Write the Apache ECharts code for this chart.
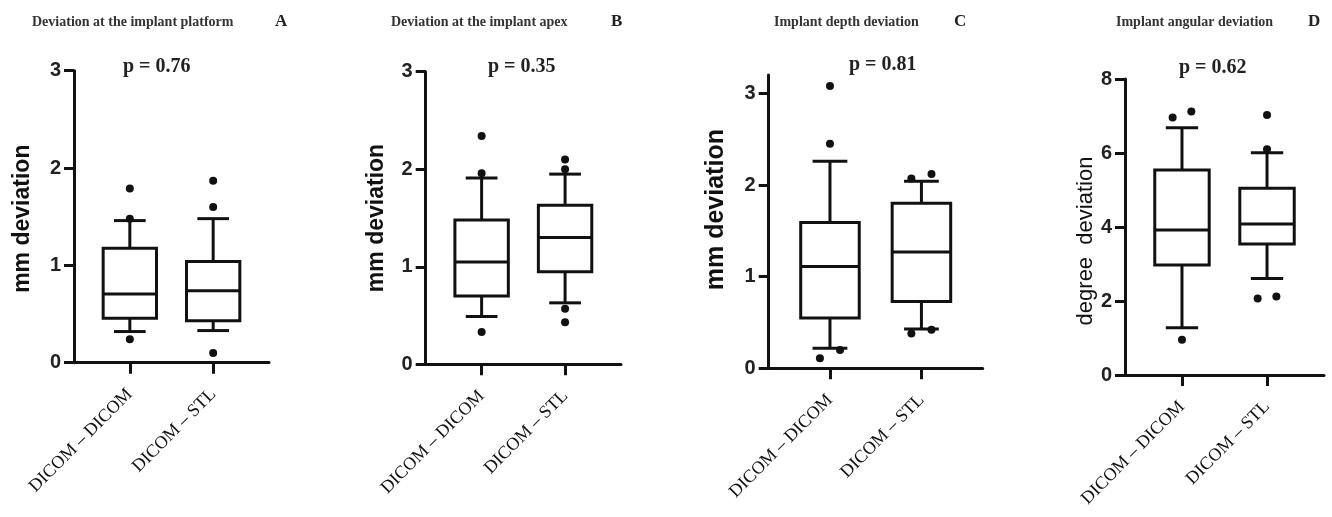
<!DOCTYPE html>
<html>
<head>
<meta charset="utf-8">
<script src="https://cdn.jsdelivr.net/npm/echarts@6/dist/echarts.min.js"></script>
<style>
html,body{margin:0;padding:0;background:#fff;}
#c{width:1332px;height:517px;}
</style>
</head>
<body>
<div id="c"></div>
<script>
// ---------- data ----------
const categories = ['DICOM – DICOM', 'DICOM – STL'];

const panelTitles = ['Deviation at the implant platform', 'Deviation at the implant apex', 'Implant depth deviation', 'Implant angular deviation'];
const panelLetters = ['A', 'B', 'C', 'D'];
const pValues = ['p = 0.76', 'p = 0.35', 'p = 0.81', 'p = 0.62'];
const yNames = ['mm deviation', 'mm deviation', 'mm deviation', 'degree  deviation'];

// [whisker low, Q1, median, Q3, whisker high]
const boxA = [[0.32, 0.456, 0.706, 1.176, 1.46], [0.33, 0.43, 0.74, 1.04, 1.48]];
const boxB = [[0.49, 0.70, 1.05, 1.48, 1.91], [0.63, 0.95, 1.30, 1.63, 1.95]];
const boxC = [[0.22, 0.55, 1.11, 1.59, 2.26], [0.43, 0.73, 1.27, 1.80, 2.04]];
const boxD = [[1.28, 2.97, 3.92, 5.54, 6.68], [2.61, 3.54, 4.08, 5.05, 6.01]];

const outA = [[1.79, 1.48, 0.24], [1.87, 1.60, 0.10]];
const outB = [[2.34, 1.96, 0.33], [2.10, 2.00, 0.57, 0.43]];
const outC = [[3.08, 2.45, 0.20, 0.11], [2.07, 2.12, 0.42, 0.38]];
const outD = [[6.96, 7.12, 0.95], [7.03, 6.10, 2.07, 2.12]];

const yMax = [3, 3, 3.2, 8];
const yInterval = [1, 1, 1, 2];
const yTicksA = [0, 1, 2, 3];
const yTicksD = [0, 2, 4, 6, 8];

// ---------- layout / style ----------
const boxes = [boxA, boxB, boxC, boxD];
const outs = [outA, outB, outC, outD];
const yTicks = [yTicksA, yTicksA, yTicksA, yTicksD];
const grids = [
  {left: 74, top: 70.7, width: 195, height: 292},
  {left: 425.7, top: 71.7, width: 195.3, height: 292.6},
  {left: 768.7, top: 75, width: 214, height: 293.3},
  {left: 1125, top: 79, width: 199, height: 296}
];
const titlePos = [[32, 15], [391, 15], [774, 15], [1116, 15]];
const letterPos = [[275, 13], [611, 13], [954, 13], [1308, 13]];
const pPos = [[123, 57], [488, 57], [849, 55], [1179, 58]];
const nameGap = [40, 38, 40, 27];
const nameSize = [23, 23, 25, 22];
const nameWeight = ['bold', 'bold', 'bold', 'normal'];
const namePad = [[0, 4, 0, 0], [0, 0, 0, 0], [0, 0, 0, 24], [0, 28, 0, 0]];
const INK = '#111';
const LW = 3;
const BOX_W = 0.64, CAP_W = 0.38, JIT = 0.11;

function renderBox(params, api) {
  const x = api.value(0);
  const lo = api.coord([x, api.value(1)]);
  const q1 = api.coord([x, api.value(2)]);
  const md = api.coord([x, api.value(3)]);
  const q3 = api.coord([x, api.value(4)]);
  const hi = api.coord([x, api.value(5)]);
  const bw = api.size([BOX_W, 0])[0];
  const cw = api.size([CAP_W, 0])[0];
  const st = {stroke: INK, lineWidth: LW, fill: null};
  const cx = lo[0];
  return {
    type: 'group',
    children: [
      {type: 'line', shape: {x1: cx, y1: hi[1], x2: cx, y2: q3[1]}, style: st},
      {type: 'line', shape: {x1: cx, y1: q1[1], x2: cx, y2: lo[1]}, style: st},
      {type: 'line', shape: {x1: cx - cw / 2, y1: hi[1], x2: cx + cw / 2, y2: hi[1]}, style: st},
      {type: 'line', shape: {x1: cx - cw / 2, y1: lo[1], x2: cx + cw / 2, y2: lo[1]}, style: st},
      {type: 'rect', shape: {x: cx - bw / 2, y: q3[1], width: bw, height: q1[1] - q3[1]}, style: {stroke: INK, lineWidth: LW, fill: '#fff'}},
      {type: 'line', shape: {x1: cx - bw / 2, y1: md[1], x2: cx + bw / 2, y2: md[1]}, style: st}
    ]
  };
}

// spread outliers that would overlap side by side
function outlierPoints(groups, range) {
  const pts = [];
  groups.forEach((vals, gi) => {
    const s = vals.slice().sort((a, b) => a - b);
    let i = 0;
    while (i < s.length) {
      let j = i;
      while (j + 1 < s.length && (s[j + 1] - s[j]) / range < 0.03) j++;
      const n = j - i + 1;
      for (let k = 0; k < n; k++) {
        const off = n === 1 ? 0 : (k - (n - 1) / 2) * 2 * JIT;
        pts.push([gi + off, s[i + k]]);
      }
      i = j + 1;
    }
  });
  return pts;
}

const option = {
  animation: false,
  backgroundColor: '#fff',
  title: [],
  grid: grids,
  xAxis: [],
  yAxis: [],
  series: []
};

for (let p = 0; p < 4; p++) {
  option.title.push({
    text: panelTitles[p], left: titlePos[p][0], top: titlePos[p][1], padding: 0,
    textStyle: {fontFamily: 'Liberation Serif', fontWeight: 'bold', fontSize: 14, color: '#333'}
  });
  option.title.push({
    text: panelLetters[p], left: letterPos[p][0], top: letterPos[p][1], padding: 0,
    textStyle: {fontFamily: 'Liberation Serif', fontWeight: 'bold', fontSize: 17, color: '#222'}
  });
  option.title.push({
    text: pValues[p], left: pPos[p][0], top: pPos[p][1], padding: 0,
    textStyle: {fontFamily: 'Liberation Serif', fontWeight: 'bold', fontSize: 20, color: '#222'}
  });
  option.xAxis.push({
    type: 'value', gridIndex: p, min: -0.67, max: 1.67,
    splitLine: {show: false},
    axisLine: {show: true, onZero: false, lineStyle: {color: INK, width: LW}},
    axisTick: {show: true, length: 11, customValues: [0, 1], lineStyle: {color: INK, width: LW}},
    axisLabel: {
      customValues: [0, 1], rotate: 45, margin: 29,
      formatter: v => categories[Math.round(v)],
      fontFamily: 'Liberation Serif', fontSize: 18, color: '#111'
    }
  });
  option.yAxis.push({
    type: 'value', gridIndex: p, min: 0, max: yMax[p], interval: yInterval[p],
    name: yNames[p], nameLocation: 'middle', nameGap: nameGap[p],
    nameTextStyle: {fontFamily: 'Liberation Sans', fontWeight: nameWeight[p], fontSize: nameSize[p], color: '#111', padding: namePad[p]},
    splitLine: {show: false},
    axisLine: {show: true, onZero: false, lineStyle: {color: INK, width: LW}},
    axisTick: {show: true, length: 10, customValues: yTicks[p], lineStyle: {color: INK, width: LW}},
    axisLabel: {customValues: yTicks[p], margin: 13, fontFamily: 'Liberation Sans', fontWeight: 'bold', fontSize: 20, color: '#222'}
  });
  option.series.push({
    type: 'custom', xAxisIndex: p, yAxisIndex: p,
    renderItem: renderBox,
    encode: {x: 0, y: [1, 2, 3, 4, 5]},
    data: boxes[p].map((b, i) => [i].concat(b))
  });
  option.series.push({
    type: 'scatter', xAxisIndex: p, yAxisIndex: p,
    symbolSize: 8, itemStyle: {color: INK, opacity: 1},
    data: outlierPoints(outs[p], yMax[p]),
    z: 5
  });
}

const chart = echarts.init(document.getElementById('c'));
chart.setOption(option);
</script>
</body>
</html>
